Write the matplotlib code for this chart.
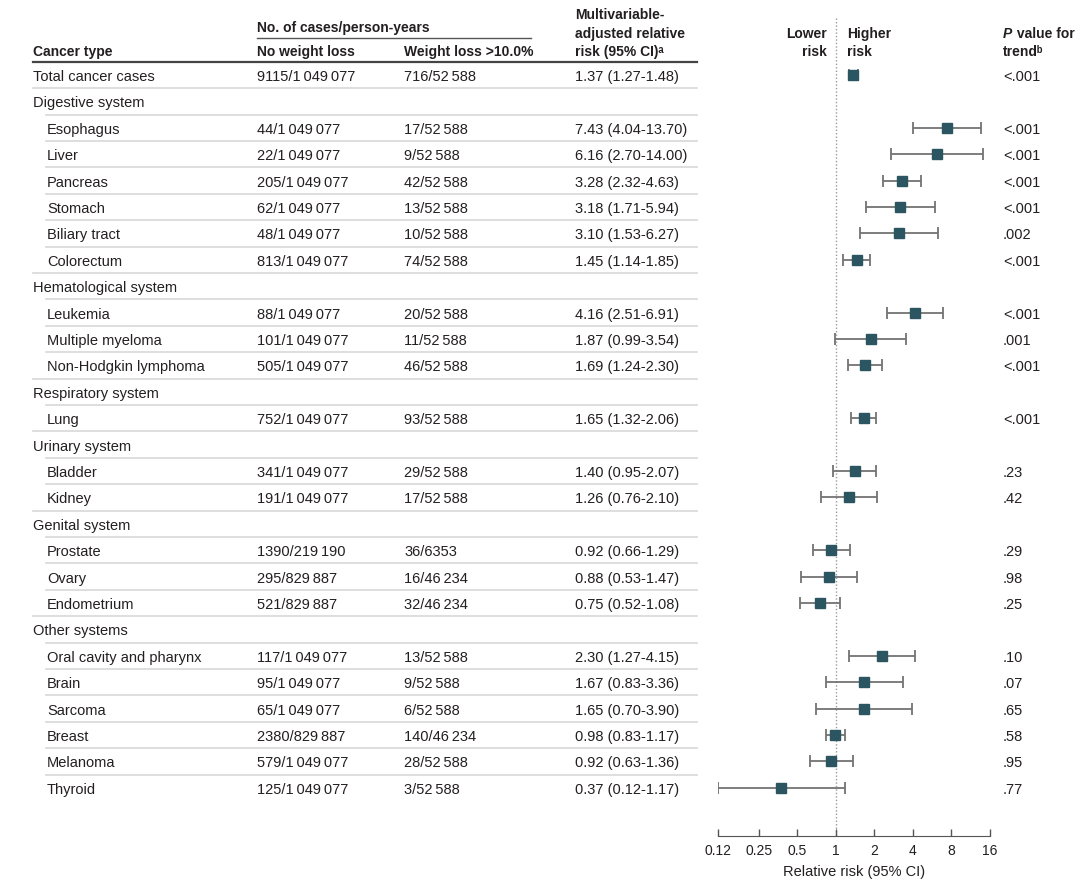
import matplotlib.pyplot as plt
from matplotlib.ticker import NullLocator

plt.rcParams['font.family'] = ['Liberation Sans', 'DejaVu Sans']

# ---- data ----
labels = ['Total cancer cases', 'Digestive system', 'Esophagus', 'Liver', 'Pancreas', 'Stomach',
          'Biliary tract', 'Colorectum', 'Hematological system', 'Leukemia', 'Multiple myeloma',
          'Non-Hodgkin lymphoma', 'Respiratory system', 'Lung', 'Urinary system', 'Bladder',
          'Kidney', 'Genital system', 'Prostate', 'Ovary', 'Endometrium', 'Other systems',
          'Oral cavity and pharynx', 'Brain', 'Sarcoma', 'Breast', 'Melanoma', 'Thyroid']
is_group = [False, True, False, False, False, False, False, False, True, False, False, False,
            True, False, True, False, False, True, False, False, False, True,
            False, False, False, False, False, False]
cases_no = [9115, None, 44, 22, 205, 62, 48, 813, None, 88, 101, 505, None, 752, None, 341, 191,
            None, 1390, 295, 521, None, 117, 95, 65, 2380, 579, 125]
py_no = [1049077, None, 1049077, 1049077, 1049077, 1049077, 1049077, 1049077, None, 1049077,
         1049077, 1049077, None, 1049077, None, 1049077, 1049077, None, 219190, 829887, 829887,
         None, 1049077, 1049077, 1049077, 829887, 1049077, 1049077]
cases_wl = [716, None, 17, 9, 42, 13, 10, 74, None, 20, 11, 46, None, 93, None, 29, 17, None,
            36, 16, 32, None, 13, 9, 6, 140, 28, 3]
py_wl = [52588, None, 52588, 52588, 52588, 52588, 52588, 52588, None, 52588, 52588, 52588, None,
         52588, None, 52588, 52588, None, 6353, 46234, 46234, None, 52588, 52588, 52588, 46234,
         52588, 52588]
rr = [1.37, None, 7.43, 6.16, 3.28, 3.18, 3.10, 1.45, None, 4.16, 1.87, 1.69, None, 1.65, None,
      1.40, 1.26, None, 0.92, 0.88, 0.75, None, 2.30, 1.67, 1.65, 0.98, 0.92, 0.37]
ci_lo = [1.27, None, 4.04, 2.70, 2.32, 1.71, 1.53, 1.14, None, 2.51, 0.99, 1.24, None, 1.32, None,
         0.95, 0.76, None, 0.66, 0.53, 0.52, None, 1.27, 0.83, 0.70, 0.83, 0.63, 0.12]
ci_hi = [1.48, None, 13.70, 14.00, 4.63, 5.94, 6.27, 1.85, None, 6.91, 3.54, 2.30, None, 2.06, None,
         2.07, 2.10, None, 1.29, 1.47, 1.08, None, 4.15, 3.36, 3.90, 1.17, 1.36, 1.17]
p_trend = ['<.001', None, '<.001', '<.001', '<.001', '<.001', '.002', '<.001', None, '<.001',
           '.001', '<.001', None, '<.001', None, '.23', '.42', None, '.29', '.98', '.25', None,
           '.10', '.07', '.65', '.58', '.95', '.77']
tick_vals = [0.12, 0.25, 0.5, 1, 2, 4, 8, 16]
tick_labels = ['0.12', '0.25', '0.5', '1', '2', '4', '8', '16']

TXT = '#231f20'
MARK = '#2b5561'
ERR = '#737373'
W, H = 1080, 891
FS = 10.5
DY = 2  # text sits a touch lower than its row centre


def fmt_num(n):
    if n < 10000:
        return str(n)
    return f"{n:,}".replace(',', '\u2009')


fig = plt.figure(figsize=(W / 100, H / 100), dpi=100)
bg = fig.add_axes([0, 0, 1, 1])
bg.set_xlim(0, W)
bg.set_ylim(H, 0)
bg.axis('off')

row_y0, row_dy = 75, 26.4
rows_y = [row_y0 + row_dy * i for i in range(len(labels))]

# headers
hd = dict(fontsize=10, fontweight='bold', color=TXT, va='center')
bg.text(33, 50 + DY, 'Cancer type', **hd)
bg.text(257, 26 + DY, 'No. of cases/person-years', **hd)
bg.plot([257, 531], [38, 38], color='#555555', lw=1)
bg.text(257, 50 + DY, 'No weight loss', **hd)
bg.text(404, 50 + DY, 'Weight loss >10.0%', **hd)
bg.text(575, 13 + DY, 'Multivariable-', **hd)
bg.text(575, 32 + DY, 'adjusted relative', **hd)
bg.text(575, 50 + DY, 'risk (95% CI)\u1d43', **hd)
bg.text(827, 32 + DY, 'Lower', ha='right', **hd)
bg.text(827, 50 + DY, 'risk', ha='right', **hd)
bg.text(847, 32 + DY, 'Higher', **hd)
bg.text(847, 50 + DY, 'risk', **hd)
ptxt = bg.text(1003, 32 + DY, 'P', fontstyle='italic', **hd)
fig.canvas.draw()
bb = ptxt.get_window_extent()
bg.text(1003 + bb.width + 1, 32 + DY, ' value for', **hd)
bg.text(1003, 50 + DY, 'trend\u1d47', **hd)
bg.plot([33, 697], [62, 62], color='#444444', lw=1.6)

# table rows
for i, lab in enumerate(labels):
    y = rows_y[i]
    x0 = 33 if (is_group[i] or i == 0) else 47
    bg.text(x0, y + DY, lab, fontsize=FS, color=TXT, va='center')
    if not is_group[i]:
        bg.text(257, y + DY, f"{fmt_num(cases_no[i])}/{fmt_num(py_no[i])}", fontsize=FS, color=TXT, va='center')
        bg.text(404, y + DY, f"{fmt_num(cases_wl[i])}/{fmt_num(py_wl[i])}", fontsize=FS, color=TXT, va='center')
        bg.text(575, y + DY, f"{rr[i]:.2f} ({ci_lo[i]:.2f}-{ci_hi[i]:.2f})", fontsize=FS, color=TXT, va='center')
        bg.text(1003, y + DY, p_trend[i], fontsize=FS, color=TXT, va='center')
    if i < len(labels) - 1:
        lx = 33 if is_group[i + 1] else 46
        bg.plot([lx, 697], [y + row_dy / 2] * 2, color='#d8d8d8', lw=1.2)

# forest plot
ax = fig.add_axes([718 / W, (H - 836) / H, (990 - 718) / W, 836 / H])
ax.patch.set_alpha(0)
ax.set_xscale('log', base=2)
ax.set_xlim(0.12, 16)
ax.set_ylim(836, 0)
for s in ['top', 'left', 'right']:
    ax.spines[s].set_visible(False)
ax.spines['bottom'].set_color('#555555')
ax.set_yticks([])
ax.set_xticks(tick_vals)
ax.set_xticklabels(tick_labels)
ax.xaxis.set_minor_locator(NullLocator())
ax.tick_params(axis='x', direction='in', length=5, width=1, color='#555555',
               labelcolor=TXT, labelsize=10, pad=6)
ax.set_xlabel('Relative risk (95% CI)', fontsize=FS, color=TXT, labelpad=5)

ax.plot([1, 1], [18, 836], ls=(0, (1, 1.5)), color='#9a9a9a', lw=1, zorder=1)

for i in range(len(labels)):
    if is_group[i]:
        continue
    ax.errorbar(rr[i], rows_y[i], xerr=[[rr[i] - ci_lo[i]], [ci_hi[i] - rr[i]]], fmt='s',
                color=MARK, ms=6.5, ecolor=ERR, elinewidth=1.3, capsize=4, capthick=1.3, zorder=3)

fig.savefig('out.png', dpi=100)
